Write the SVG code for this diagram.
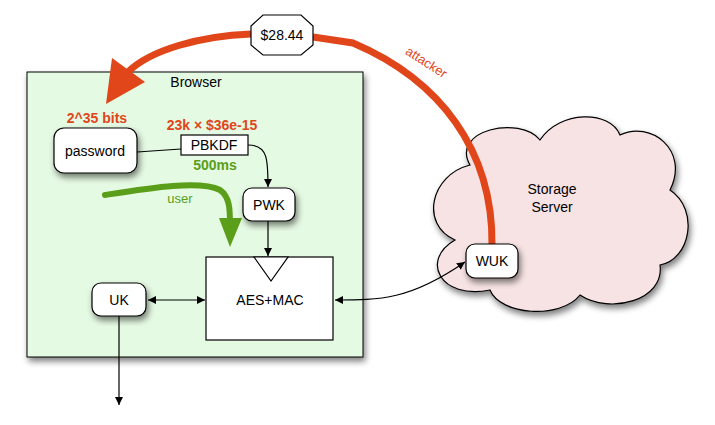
<svg xmlns="http://www.w3.org/2000/svg" width="715" height="425" viewBox="0 0 715 425">
<defs>
<filter id="sh" x="-20%" y="-20%" width="150%" height="150%"><feGaussianBlur in="SourceAlpha" stdDeviation="3"/><feOffset dx="2" dy="4"/><feComponentTransfer><feFuncA type="linear" slope="0.5"/></feComponentTransfer><feMerge><feMergeNode/><feMergeNode in="SourceGraphic"/></feMerge></filter>
<marker id="ar" viewBox="0 0 10 10" refX="10" refY="5" markerWidth="8" markerHeight="8" markerUnits="userSpaceOnUse" orient="auto-start-reverse"><path d="M0,0 L10,5 L0,10 z" fill="#000"/></marker>
</defs>
<style>
text{font-family:"Liberation Sans",Arial,sans-serif;font-size:14px;text-anchor:middle}
.n{fill:#fff;stroke:#000;stroke-width:1.2}
.c{fill:none;stroke:#000;stroke-width:1.2}
.o{fill:#e0461a;font-weight:bold}
.g{fill:#5a9e1a;font-weight:bold}
</style>
<g id="browser"><rect x="27" y="72" width="336" height="285" fill="#e5fae2" stroke="#000" filter="url(#sh)"/><text x="196" y="87">Browser</text></g>
<g id="storage"><path d="M470,165 C450,130 520,115 540,140 C560,110 610,110 620,135 C650,120 690,150 670,190 C700,210 690,260 660,265 C665,300 610,315 580,295 C560,320 500,315 490,290 C440,300 420,260 455,240 C420,225 430,175 470,165 Z" fill="#f7e3e3" stroke="#000" stroke-width="1.2" filter="url(#sh)"/><text x="552" y="194">Storage</text><text x="552" y="212">Server</text></g>
<g id="connectors">
<path class="c" d="M137,152 L181,149"/>
<path class="c" d="M248,145 C268,145 268,160 268,187" marker-end="url(#ar)"/>
<path class="c" d="M268,221 L268,256" marker-end="url(#ar)"/>
<path class="c" d="M148,300 L205,300" marker-start="url(#ar)" marker-end="url(#ar)"/>
<path class="c" d="M119,316 L119,405" marker-end="url(#ar)"/>
<path class="c" d="M335,300 C380,300 410,300 465,262" marker-start="url(#ar)" marker-end="url(#ar)"/>
<path d="M492,245 C493,150 440,80 353,43 L313,37" fill="none" stroke="#e0461a" stroke-width="7"/>
<path d="M251,34 C200,36 150,50 128,72" fill="none" stroke="#e0461a" stroke-width="7"/>
<path d="M106,104 L112,58 L145,82 Z" fill="#e0461a"/>
<text x="424" y="66" transform="rotate(33 424 66)" style="fill:#e0461a;font-size:13px">attacker</text>
<path d="M105,195 C150,188 200,180 220,190 C230,197 230,210 230,225" fill="none" stroke="#5a9e1a" stroke-width="6" stroke-linecap="round"/>
<path d="M219,218 L242,218 L230,247 Z" fill="#5a9e1a"/>
<text x="180" y="203" style="fill:#5a9e1a;font-size:13px">user</text>
</g>
<g id="price"><polygon points="263,15 301,15 313,26 313,45 301,55 263,55 251,45 251,26" class="n"/><text x="282" y="40">$28.44</text></g>
<g id="password"><rect x="54" y="128" width="83" height="45" rx="10" class="n" filter="url(#sh)"/><text x="95" y="156">password</text></g>
<text class="o" x="97" y="123">2^35 bits</text>
<g id="pbkdf"><rect x="181" y="135" width="67" height="20" class="n"/><text x="214" y="150">PBKDF</text></g>
<text class="o" x="212" y="130">23k × $36e-15</text>
<text class="g" x="215" y="170">500ms</text>
<g id="pwk"><rect x="243" y="188" width="52" height="33" rx="9" class="n" filter="url(#sh)"/><text x="269" y="210">PWK</text></g>
<g id="aes"><rect x="206" y="257" width="127" height="83" class="n"/><polygon points="254,257 288,257 271,281" class="n"/><text x="270" y="305">AES+MAC</text></g>
<g id="uk"><rect x="92" y="283" width="54" height="33" rx="9" class="n" filter="url(#sh)"/><text x="119" y="305">UK</text></g>
<g id="wuk"><rect x="466" y="244" width="52" height="34" rx="9" class="n" filter="url(#sh)"/><text x="492" y="266">WUK</text></g>
</svg>
